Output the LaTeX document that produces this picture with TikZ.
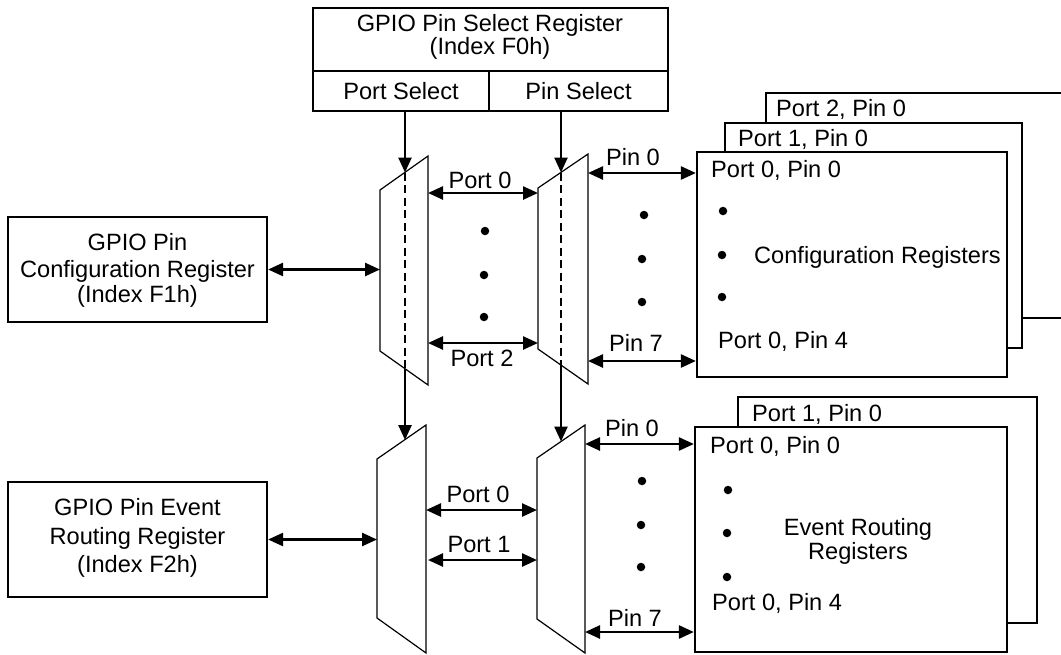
\documentclass[tikz,border=0pt]{standalone}
\usepackage{fontspec}
\setmainfont{Liberation Sans}
\usetikzlibrary{arrows.meta,fit}
\newcommand\dfont{\fontsize{23.6}{26}\selectfont}
\tikzset{
  regbox/.style={draw, line width=2.2pt, fill=white, inner sep=0pt, align=center, font=\dfont},
  lbl/.style={inner sep=0pt, font=\dfont, text height=17pt, text depth=0pt},
  mlbl/.style={inner sep=0pt, font=\dfont, align=center},
  muxshape/.style={draw, line width=1.2pt, fill=white, line join=miter},
  selline/.style={line width=1.8pt, dash pattern=on 8pt off 4.5pt},
  arr/.style={line width=2.5pt, -{Triangle[length=15pt,width=13pt]}},
  darr/.style={line width=2.5pt, {Triangle[length=15pt,width=13pt]}-{Triangle[length=15pt,width=13pt]}},
  dotmark/.style={circle, fill=black, inner sep=0pt, minimum size=8.5pt}
}
\begin{document}
\begin{tikzpicture}[x=1pt,y=-1pt]
\useasboundingbox (0,0) rectangle (1061,654);
\clip (0,0) rectangle (1061,654);
% ---------- top register ----------
\node[regbox, fit={(313,8) (668,71)}] (title) {};
\node[mlbl] (titletext) at (490,37) {GPIO Pin Select Register\\[-3pt](Index F0h)};
\node[regbox, fit={(313,71) (489,111)}] (ps) {};
\node[lbl] at (ps.center) {Port Select};
\node[regbox, fit={(489,71) (668,111)}] (pins) {};
\node[lbl] at (pins.center) {Pin Select};
% ---------- left registers ----------
\node[regbox, fit={(8,217) (267,322)}] (cfg) {};
\node[mlbl] at (137.5,270) {GPIO Pin\\[1pt]Configuration Register\\[-1pt](Index F1h)};
\node[regbox, fit={(8,482) (267,597)}] (evt) {};
\node[mlbl] at (137.5,538) {GPIO Pin Event\\[3pt]Routing Register\\[2pt](Index F2h)};
% ---------- multiplexers ----------
\coordinate (m1a) at (380,190); \coordinate (m1b) at (428,156);
\coordinate (m1c) at (428,385); \coordinate (m1d) at (380,351);
\draw[muxshape] (m1a) -- (m1b) -- (m1c) -- (m1d) -- cycle;
\coordinate (m2a) at (538,188); \coordinate (m2b) at (588,154);
\coordinate (m2c) at (588,384); \coordinate (m2d) at (538,349);
\draw[muxshape] (m2a) -- (m2b) -- (m2c) -- (m2d) -- cycle;
\coordinate (m3a) at (377,459); \coordinate (m3b) at (426,425);
\coordinate (m3c) at (426,653); \coordinate (m3d) at (377,618);
\draw[muxshape] (m3a) -- (m3b) -- (m3c) -- (m3d) -- cycle;
\coordinate (m4a) at (537,458); \coordinate (m4b) at (585,425);
\coordinate (m4c) at (585,653); \coordinate (m4d) at (537,619);
\draw[muxshape] (m4a) -- (m4b) -- (m4c) -- (m4d) -- cycle;
% select lines inside muxes
\coordinate (m1top) at (405,172.5); \coordinate (m1bot) at (405,368.5);
\coordinate (m2top) at (561,172.5); \coordinate (m2bot) at (561,365);
\draw[selline] (m1top) -- (m1bot);
\draw[selline] (m2top) -- (m2bot);
\coordinate (m3top) at (405,440); \coordinate (m4top) at (561,441.5);
% ---------- right register stacks (top) ----------
\node[regbox, fit={(766,93) (1100,318)}] (c2) {};
\node[regbox, fit={(725,123) (1022,348)}] (c1) {};
\node[regbox, fit={(697,152) (1007,377)}] (c0) {};
\node[lbl, anchor=west] at (776,108) {Port 2, Pin 0};
\node[lbl, anchor=west] at (738,138) {Port 1, Pin 0};
\node[lbl, anchor=west] at (711,169) {Port 0, Pin 0};
\node[lbl, anchor=west] at (754,255) {Configuration Registers};
\node[lbl, anchor=west] at (718,340) {Port 0, Pin 4};
\node[dotmark] at (723,211) {};
\node[dotmark] at (722,255) {};
\node[dotmark] at (722,297) {};
% ---------- right register stacks (bottom) ----------
\node[regbox, fit={(738,397) (1037,623)}] (e1) {};
\node[regbox, fit={(695,427) (1007,652)}] (e0) {};
\node[lbl, anchor=west] at (752,413) {Port 1, Pin 0};
\node[lbl, anchor=west] at (710,445) {Port 0, Pin 0};
\node[mlbl] at (858,541) {Event Routing\\[-2pt]Registers};
\node[lbl, anchor=west] at (712,602) {Port 0, Pin 4};
\node[dotmark] at (728,490) {};
\node[dotmark] at (727,533) {};
\node[dotmark] at (727,577) {};
% ---------- select arrows ----------
\draw[arr] (ps.south -| m1top) -- (m1top);
\draw[arr] (pins.south -| m2top) -- (m2top);
\draw[arr] (m1bot) -- (m3top);
\draw[arr] (m2bot) -- (m4top);
% ---------- data arrows ----------
\draw[darr] (cfg.east) -- (cfg.east -| m1a);
\draw[darr] (evt.east) -- (evt.east -| m3a);
\coordinate (p0t) at (428,193); \coordinate (p2t) at (428,343);
\draw[darr] (p0t) -- (p0t -| m2a);
\draw[darr] (p2t) -- (p2t -| m2a);
\node[lbl] at (480,180) {Port 0};
\node[lbl] at (482,358) {Port 2};
\coordinate (q0t) at (588,173); \coordinate (q7t) at (588,361);
\draw[darr] (q0t) -- (q0t -| c0.west);
\draw[darr] (q7t) -- (q7t -| c0.west);
\node[lbl] at (633,157) {Pin 0};
\node[lbl] at (636,343) {Pin 7};
\coordinate (p0b) at (426,510); \coordinate (p1b) at (428,560);
\draw[darr] (p0b) -- (p0b -| m4a);
\draw[darr] (p1b) -- (p1b -| m4a);
\node[lbl] at (478,494) {Port 0};
\node[lbl] at (479,544) {Port 1};
\coordinate (q0b) at (585,444); \coordinate (q7b) at (585,632);
\draw[darr] (q0b) -- (q0b -| e0.west);
\draw[darr] (q7b) -- (q7b -| e0.west);
\node[lbl] at (632,428) {Pin 0};
\node[lbl] at (635,618) {Pin 7};
% ---------- dots between muxes ----------
\node[dotmark] at (485,231) {};
\node[dotmark] at (484,275) {};
\node[dotmark] at (484,317) {};
\node[dotmark] at (644,215) {};
\node[dotmark] at (642,259) {};
\node[dotmark] at (642,302) {};
\node[dotmark] at (642,481) {};
\node[dotmark] at (641,525) {};
\node[dotmark] at (641,567) {};
\end{tikzpicture}
\end{document}
